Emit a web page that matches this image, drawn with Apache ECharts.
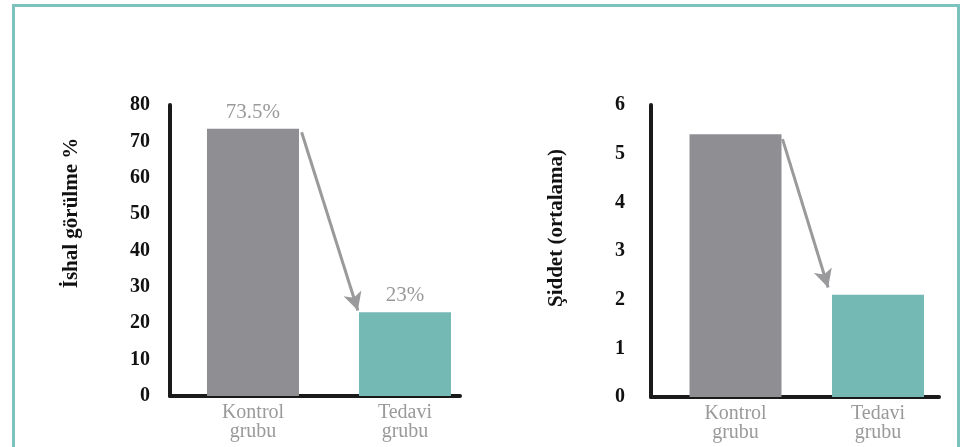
<!DOCTYPE html>
<html>
<head>
<meta charset="utf-8">
<script src="https://cdn.jsdelivr.net/npm/echarts@6/dist/echarts.min.js"></script>
<style>
  html, body { margin: 0; padding: 0; background: #fff; }
  #frame { position: absolute; left: 12px; top: 4px; width: 948px; height: 460px; border: 3px solid #7cc3bf; box-sizing: border-box; }
  #chart { position: absolute; left: 0; top: 0; width: 963px; height: 447px; }
</style>
</head>
<body>
<div id="frame"></div>
<div id="chart"></div>
<script>
const categories = ['Kontrol\ngrubu', 'Tedavi\ngrubu'];
const incidenceValues = [73.5, 23];      // İshal görülme %
const severityValues = [5.4, 2.1];       // Şiddet (ortalama)
const incidenceTicks = { min: 0, max: 80, interval: 10 };
const severityTicks = { min: 0, max: 6, interval: 1 };
const axisNames = ['İshal görülme %', 'Şiddet (ortalama)'];
// arrow annotations (data coordinates)
const arrow1 = [[0.32, 72.5], [0.69, 23.5]];
const arrow2 = [[0.33, 5.3], [0.65, 2.25]];

const barColors = ['#8f8e93', '#74b9b3'];
const serif = '"Liberation Serif", "DejaVu Serif", serif';

const chart = echarts.init(document.getElementById('chart'), null, { renderer: 'canvas' });

function xAxisDef(gridIndex, min, max) {
  return {
    type: 'value', gridIndex, min, max,
    axisLine: { show: true, onZero: false, lineStyle: { color: '#1a1a1a', width: 4 } },
    axisTick: { show: false },
    splitLine: { show: false },
    axisLabel: {
      customValues: [0, 1],
      formatter: v => categories[Math.round(v)],
      color: '#9a9a9a', fontFamily: serif, fontSize: 20, lineHeight: 19, margin: 7
    }
  };
}
function yAxisDef(gridIndex, t, margin) {
  return {
    type: 'value', gridIndex, min: t.min, max: t.max, interval: t.interval,
    axisLine: { show: true, onZero: false, lineStyle: { color: '#1a1a1a', width: 4 } },
    axisTick: { show: false },
    splitLine: { show: false },
    axisLabel: { color: '#111', fontFamily: serif, fontSize: 20, fontWeight: 'bold', margin }
  };
}
function barData(values) {
  return values.map((v, i) => ({ value: [i, v], itemStyle: { color: barColors[i] } }));
}
function arrowLine(coords) {
  return {
    silent: true,
    symbol: ['none', 'arrow'],
    symbolSize: [14, 18],
    label: { show: false },
    lineStyle: { color: '#9a9a9c', width: 3, type: 'solid' },
    data: [[{ coord: coords[0] }, { coord: coords[1] }]]
  };
}

chart.setOption({
  animation: false,
  grid: [
    { left: 170, top: 105, width: 290, height: 291 },
    { left: 651, top: 105, width: 288, height: 292 }
  ],
  xAxis: [xAxisDef(0, -0.546, 1.362), xAxisDef(1, -0.593, 1.428)],
  yAxis: [yAxisDef(0, incidenceTicks, 20), yAxisDef(1, severityTicks, 26)],
  series: [
    {
      type: 'bar', xAxisIndex: 0, yAxisIndex: 0, barWidth: 92,
      data: barData(incidenceValues),
      label: {
        show: true, position: 'top', distance: 6,
        formatter: p => p.value[1] + '%',
        color: '#9a9a9a', fontFamily: serif, fontSize: 21
      },
      markLine: arrowLine(arrow1)
    },
    {
      type: 'bar', xAxisIndex: 1, yAxisIndex: 1, barWidth: 92,
      data: barData(severityValues),
      markLine: arrowLine(arrow2)
    }
  ],
  graphic: [
    {
      type: 'text', x: 72, y: 213, rotation: Math.PI / 2,
      style: { text: axisNames[0], fill: '#111', font: 'bold 21px ' + serif, align: 'center', verticalAlign: 'middle' }
    },
    {
      type: 'text', x: 557, y: 228, rotation: Math.PI / 2,
      style: { text: axisNames[1], fill: '#111', font: 'bold 21px ' + serif, align: 'center', verticalAlign: 'middle' }
    }
  ]
});
</script>
</body>
</html>
